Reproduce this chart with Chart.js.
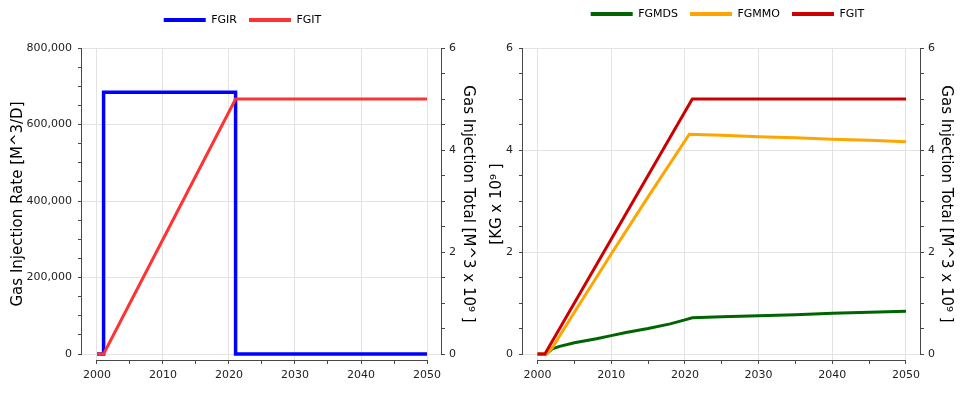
<!DOCTYPE html>
<html>
<head>
<meta charset="utf-8">
<title>Gas injection</title>
<script src="https://cdn.jsdelivr.net/npm/chart.js@4.4.1/dist/chart.umd.min.js"></script>
<style>
  body { margin: 0; background: #fff; }
  .wrap { display: flex; width: 970px; height: 396px; }
  canvas { display: block; }
</style>
</head>
<body>
<div class="wrap">
  <canvas id="rateChart" width="485" height="396"></canvas>
  <canvas id="massChart" width="485" height="396"></canvas>
</div>
<script>
// data
var fgirYears = [2000, 2001, 2021, 2050];
var fgirRate = [0, 684000, 0, 0];           // M^3/D (stepped)

var fgitYears = [2000, 2001, 2009, 2017, 2021, 2050];
var fgitTotal = [0, 0, 2.0, 4.0, 5.0, 5.0]; // M^3 x 10^9

var fgmmoYears = [2000, 2001.2, 2002, 2005, 2010, 2015, 2020.6, 2025, 2030, 2035, 2040, 2045, 2050];
var fgmmoMass = [0, 0, 0.12, 0.82, 1.96, 3.08, 4.31, 4.29, 4.26, 4.24, 4.21, 4.19, 4.16];

var fgmdsYears = [2000, 2001.2, 2002, 2003, 2005, 2008, 2010, 2012, 2015, 2018, 2020, 2021, 2025, 2030, 2035, 2040, 2045, 2050];
var fgmdsMass = [0, 0, 0.1, 0.15, 0.22, 0.3, 0.36, 0.42, 0.5, 0.59, 0.67, 0.71, 0.73, 0.75, 0.77, 0.8, 0.82, 0.84];

// tick labels
var yearTicks = [2000, 2010, 2020, 2030, 2040, 2050];
var rateTicks = [0, 200000, 400000, 600000, 800000];
var totalTicks = [0, 2, 4, 6];

var AXIS = '#484848';
var GRID = '#e3e3e3';

Chart.defaults.font.family = 'DejaVu Sans';
Chart.defaults.font.size = 11;
Chart.defaults.color = '#222';

function pts(xs, ys) {
  return xs.map(function (x, i) { return {x: x, y: ys[i]}; });
}

// majors plus evenly split minor ticks
function ticksBetween(major, parts) {
  var out = [];
  for (var i = 0; i < major.length; i++) {
    out.push(major[i]);
    if (i < major.length - 1) {
      var step = (major[i + 1] - major[i]) / parts;
      for (var k = 1; k < parts; k++) out.push(major[i] + step * k);
    }
  }
  return out;
}

function makeScale(cfg) {
  var all = ticksBetween(cfg.major, cfg.parts);
  var horiz = cfg.position === 'bottom';
  return {
    type: 'linear',
    position: cfg.position,
    min: cfg.min,
    max: cfg.max,
    span: [cfg.major[0], cfg.major[cfg.major.length - 1]],
    border: { display: false },
    grid: {
      drawOnChartArea: cfg.grid,
      drawTicks: true,
      tickLength: 4,
      tickColor: AXIS,
      color: function (c) {
        return c.tick && cfg.major.indexOf(c.tick.value) >= 0 ? GRID : 'rgba(0,0,0,0)';
      }
    },
    ticks: {
      autoSkip: false,
      maxRotation: 0,
      padding: cfg.tickPad,
      color: '#222',
      callback: function (v) { return cfg.major.indexOf(v) >= 0 ? cfg.fmt(v) : ''; }
    },
    title: cfg.title ? {
      display: true,
      text: cfg.title,
      color: '#000',
      font: { size: 15 },
      padding: { top: cfg.titlePad, bottom: 0 }
    } : { display: false },
    afterBuildTicks: function (s) {
      s.ticks = all.map(function (v) { return {value: v}; });
    },
    afterFit: function (s) {
      if (horiz) s.height = cfg.size;
      else s.width = cfg.size;
    }
  };
}

// axis lines only over the labelled range, like the original plot
var axisLines = {
  id: 'axisLines',
  afterDraw: function (chart) {
    var ctx = chart.ctx;
    ctx.save();
    ctx.strokeStyle = AXIS;
    ctx.lineWidth = 1;
    Object.keys(chart.scales).forEach(function (id) {
      var s = chart.scales[id];
      var span = s.options.span;
      if (!span) return;
      ctx.beginPath();
      if (s.isHorizontal()) {
        var y = s.top + 0.5;
        ctx.moveTo(s.getPixelForValue(span[0]), y);
        ctx.lineTo(s.getPixelForValue(span[1]), y);
      } else {
        var x = s.position === 'left' ? s.right - 0.5 : s.left + 0.5;
        ctx.moveTo(x, s.getPixelForValue(span[0]));
        ctx.lineTo(x, s.getPixelForValue(span[1]));
      }
      ctx.stroke();
    });
    ctx.restore();
  }
};

// extra room under the legend so the plot starts lower
function legendGap(gap) {
  return {
    id: 'legendGap',
    afterInit: function (chart) {
      var leg = chart.legend;
      var fit = leg.fit;
      leg.fit = function () {
        fit.call(this);
        this.height += gap;
      };
    }
  };
}

function legendOpts() {
  return {
    position: 'top',
    labels: {
      boxWidth: 42,
      boxHeight: 4,
      padding: 12,
      color: '#000',
      font: { size: 11 },
      sort: function (a, b) { return a.datasetIndex - b.datasetIndex; },
      generateLabels: function (chart) {
        return Chart.defaults.plugins.legend.labels.generateLabels(chart).map(function (l) {
          l.lineWidth = 0;
          return l;
        });
      }
    }
  };
}

function line(label, xs, ys, color, axis, order, width) {
  return {
    label: label,
    data: pts(xs, ys),
    borderColor: color,
    backgroundColor: color,
    borderWidth: width || 3,
    pointRadius: 0,
    tension: 0,
    yAxisID: axis,
    order: order
  };
}

var yearFmt = function (v) { return String(v); };
var rateFmt = function (v) { return v.toLocaleString('en-US'); };
var numFmt = function (v) { return String(v); };

// left: rate and total
var firDs = line('FGIR', fgirYears, fgirRate, '#0000ff', 'y', 1, 3.5);
firDs.stepped = true;

new Chart('rateChart', {
  type: 'line',
  data: {
    datasets: [
      firDs,
      line('FGIT', fgitYears, fgitTotal, '#ff3333', 'y2', 0)
    ]
  },
  options: {
    responsive: false,
    animation: false,
    events: [],
    layout: { padding: { top: 2.5, left: 0, right: 0, bottom: 0 } },
    plugins: { legend: legendOpts(), tooltip: { enabled: false } },
    scales: {
      x: makeScale({ position: 'bottom', major: yearTicks, parts: 2, min: 1997.73, max: 2052.12,
        grid: true, fmt: yearFmt, tickPad: 5, size: 36 }),
      y: makeScale({ position: 'left', major: rateTicks, parts: 4, min: -15686, max: 800000,
        grid: true, fmt: rateFmt, tickPad: 6, size: 82,
        title: 'Gas Injection Rate [M^3/D]', titlePad: 9.5 }),
      y2: makeScale({ position: 'right', major: totalTicks, parts: 4, min: -0.1176, max: 6,
        grid: false, fmt: numFmt, tickPad: 4, size: 44,
        title: 'Gas Injection Total [M^3 x 10\u2079 ]', titlePad: 8.5 })
    }
  },
  plugins: [axisLines, legendGap(12.5)]
});

// right: mass and total
new Chart('massChart', {
  type: 'line',
  data: {
    datasets: [
      line('FGMDS', fgmdsYears, fgmdsMass, '#006400', 'y', 2),
      line('FGMMO', fgmmoYears, fgmmoMass, '#ffa500', 'y', 1),
      line('FGIT', fgitYears, fgitTotal, '#cc0000', 'y2', 0)
    ]
  },
  options: {
    responsive: false,
    animation: false,
    events: [],
    layout: { padding: { top: -3.5, left: 0, right: 0, bottom: 0 } },
    plugins: { legend: legendOpts(), tooltip: { enabled: false } },
    scales: {
      x: makeScale({ position: 'bottom', major: yearTicks, parts: 2, min: 1998.03, max: 2051.9,
        grid: true, fmt: yearFmt, tickPad: 5, size: 36 }),
      y: makeScale({ position: 'left', major: totalTicks, parts: 4, min: -0.1176, max: 6,
        grid: true, fmt: numFmt, tickPad: 6, size: 38,
        title: '[KG x 10\u2079 ]', titlePad: 3 }),
      y2: makeScale({ position: 'right', major: totalTicks, parts: 4, min: -0.1176, max: 6,
        grid: false, fmt: numFmt, tickPad: 4, size: 50,
        title: 'Gas Injection Total [M^3 x 10\u2079 ]', titlePad: 15 })
    }
  },
  plugins: [axisLines, legendGap(18.5)]
});
</script>
</body>
</html>
